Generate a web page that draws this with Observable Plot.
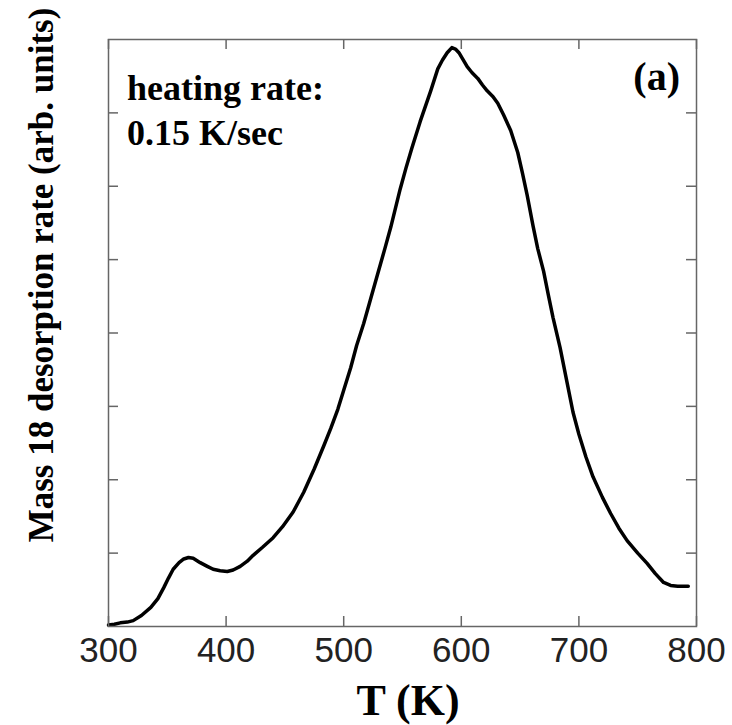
<!DOCTYPE html>
<html><head><meta charset="utf-8">
<script src="https://cdn.jsdelivr.net/npm/d3@7"></script>
<script src="https://cdn.jsdelivr.net/npm/@observablehq/plot@0.6"></script>
<style>body{margin:0;background:#fff} #chart svg{display:block}</style>
</head><body><div id="chart"></div>
<script>
const temperature = [300,305,310,316,321,328,336,342,347,351,355,360,364,368,372,378,384,389,395,401,406,412,418,423,431,440,448,457,466,475,483,489,495,500,506,511,517,523,529,535,540,548,553,558,565,574,580,584,588,592,595,598,601,605,609,614,618,622,627,631,636,642,648,652,656,661,665,670,674,678,684,690,695,700,706,712,720,727,734,741,750,758,765,772,778,784,790,793];
const rate = [0.02,0.03,0.05,0.06,0.08,0.15,0.26,0.38,0.53,0.66,0.78,0.87,0.92,0.94,0.93,0.87,0.82,0.78,0.76,0.75,0.77,0.82,0.89,0.97,1.08,1.21,1.36,1.56,1.83,2.15,2.46,2.70,2.96,3.22,3.53,3.83,4.13,4.47,4.81,5.15,5.44,5.96,6.25,6.52,6.88,7.30,7.60,7.72,7.82,7.89,7.87,7.82,7.74,7.63,7.55,7.47,7.38,7.30,7.22,7.13,6.97,6.76,6.46,6.18,5.88,5.46,5.15,4.84,4.52,4.21,3.80,3.32,2.92,2.62,2.31,2.04,1.76,1.54,1.34,1.17,1.00,0.86,0.72,0.60,0.56,0.55,0.55,0.55];
const xTicks = [300,400,500,600,700,800];
const yTicks = [1,2,3,4,5,6,7];
const xLabel = "T (K)";
const yLabel = "Mass 18 desorption rate (arb. units)";
const noteLines = ["heating rate:", "0.15 K/sec"];
const panelLabel = "(a)";

const W = 732, H = 725, mL = 108, mR = 36, mT = 39, mB = 99;
const fw = W - mL - mR, fh = H - mT - mB;
const tickLen = 10;
const axisColor = "#666";
const serif = "Liberation Serif, Times New Roman, serif";
const data = temperature.map((t, i) => ({t, r: rate[i]}));

const chart = Plot.plot({
  width: W, height: H,
  marginLeft: mL, marginRight: mR, marginTop: mT, marginBottom: mB,
  x: {domain: [300, 800]},
  y: {domain: [0, 8], axis: null},
  style: {background: "#fff"},
  marks: [
    Plot.tickX(xTicks, {x: d => d, insetTop: fh - tickLen, stroke: axisColor, strokeWidth: 1.5}),
    Plot.tickX(xTicks, {x: d => d, insetBottom: fh - tickLen, stroke: axisColor, strokeWidth: 1.5}),
    Plot.tickY(yTicks, {y: d => d, insetRight: fw - tickLen, stroke: axisColor, strokeWidth: 1.5}),
    Plot.tickY(yTicks, {y: d => d, insetLeft: fw - tickLen, stroke: axisColor, strokeWidth: 1.5}),
    Plot.axisX(xTicks, {tickSize: 0, tickPadding: 11, fontSize: 35, fontFamily: "Liberation Sans, Arial, sans-serif", fill: "#222", label: null}),
    Plot.line(data, {x: "t", y: "r", stroke: "#000", strokeWidth: 3.5, strokeLinejoin: "round"}),
    Plot.frame({stroke: axisColor, strokeWidth: 1.5})
  ]
});

const svg = d3.select(chart);
svg.append("text").text(xLabel)
  .attr("x", mL + fw / 2 + 6).attr("y", 715)
  .attr("text-anchor", "middle")
  .style("font-family", serif).style("font-weight", "bold").style("font-size", "44px").attr("fill", "#000");
svg.append("text").text(yLabel)
  .attr("transform", "translate(53,275) rotate(-90)")
  .attr("text-anchor", "middle")
  .style("font-family", serif).style("font-weight", "bold").style("font-size", "35px").attr("fill", "#000");
noteLines.forEach((s, i) => {
  svg.append("text").text(s)
    .attr("x", 127).attr("y", 100 + i * 45)
    .attr("text-anchor", "start")
    .style("font-family", serif).style("font-weight", "bold").style("font-size", "36px").attr("fill", "#000");
});
svg.append("text").text(panelLabel)
  .attr("x", 680).attr("y", 90).attr("text-anchor", "end")
  .style("font-family", serif).style("font-weight", "bold").style("font-size", "40px").attr("fill", "#000");

document.getElementById("chart").append(chart);
</script>
</body></html>
